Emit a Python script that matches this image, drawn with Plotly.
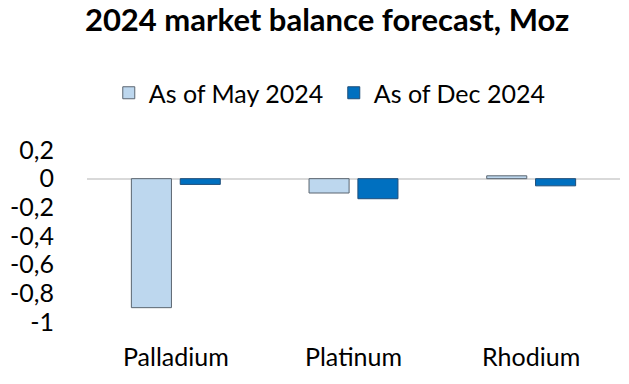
import plotly.graph_objects as go

categories = ["Palladium", "Platinum", "Rhodium"]
may_2024 = [-0.90, -0.10, 0.02]
dec_2024 = [-0.04, -0.14, -0.05]
y_tick_vals = [-1, -0.8, -0.6, -0.4, -0.2, 0, 0.2]
y_tick_text = ["-1", "-0,8", "-0,6", "-0,4", "-0,2", "0", "0,2"]

FONT = "Lato, Carlito, Calibri, sans-serif"

fig = go.Figure()
fig.add_trace(go.Bar(
    name="As of May 2024", x=categories, y=may_2024,
    marker=dict(color="#bdd7ee", line=dict(color="#5b6570", width=1)),
))
fig.add_trace(go.Bar(
    name="As of Dec 2024", x=categories, y=dec_2024,
    marker=dict(color="#0070c0", line=dict(color="#1f4e79", width=1)),
))

fig.update_layout(
    width=629, height=384,
    paper_bgcolor="white", plot_bgcolor="white",
    margin=dict(l=87, r=9, t=150, b=62, autoexpand=False),
    barmode="group", bargap=0.45, bargroupgap=0.18,
    font=dict(family=FONT, color="black", size=25),
    title=dict(text="<b>2024 market balance forecast, Moz</b>",
               x=0.52, xanchor="center", y=1 - 20 / 384, yanchor="middle",
               font=dict(size=31, family=FONT, color="black")),
    legend=dict(orientation="h", x=0.463, xanchor="center", y=1 - 93 / 384,
                yref="container", yanchor="middle", font=dict(size=25),
                entrywidth=180, entrywidthmode="pixels"),
    showlegend=True,
)

fig.update_xaxes(showline=False, showgrid=False, ticks="", ticklabelstandoff=18,
                 tickfont=dict(size=25))
fig.update_yaxes(range=[-1, 0.2], tickvals=y_tick_vals, ticktext=y_tick_text,
                 showgrid=False, zeroline=True, zerolinecolor="#d9d9d9", zerolinewidth=2,
                 showline=False, ticks="", ticklabelstandoff=32, tickfont=dict(size=25))

fig.write_html("out.html", config={"displayModeBar": False},
               post_script="document.body.style.margin='0';document.body.style.overflow='hidden';")
